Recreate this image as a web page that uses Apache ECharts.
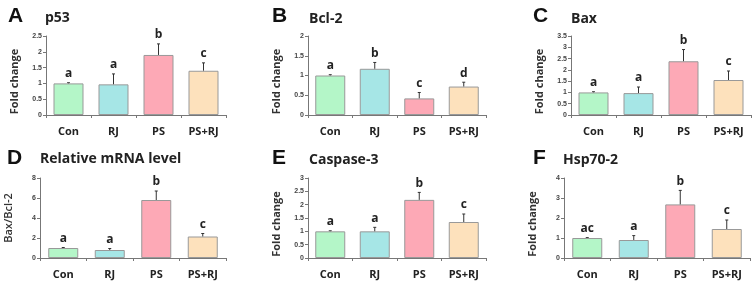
<!DOCTYPE html>
<html>
<head>
<meta charset="utf-8">
<script src="https://cdn.jsdelivr.net/npm/echarts@6/dist/echarts.min.js"></script>
<style>
html,body{margin:0;padding:0;background:#fff;}
#chart{width:755px;height:293px;}
</style>
</head>
<body>
<div id="chart"></div>
<script>
// ---- data ----
const categories = ['Con', 'RJ', 'PS', 'PS+RJ'];
const panelLetters = ['A', 'B', 'C', 'D', 'E', 'F'];
const panelTitles = ['p53', 'Bcl-2', 'Bax', 'Relative mRNA level', 'Caspase-3', 'Hsp70-2'];
const yAxisNames = ['Fold change', 'Fold change', 'Fold change', 'Bax/Bcl-2', 'Fold change', 'Fold change'];
const yMaxes = [2.5, 2, 3.5, 8, 3, 4];
const yIntervals = [0.5, 0.5, 0.5, 2, 0.5, 1];

const p53Mean = [1.0, 0.97, 1.9, 1.4];
const p53Err = [0.02, 0.33, 0.35, 0.25];
const p53Sig = ['a', 'a', 'b', 'c'];

const bcl2Mean = [1.0, 1.17, 0.42, 0.72];
const bcl2Err = [0.02, 0.16, 0.15, 0.11];
const bcl2Sig = ['a', 'b', 'c', 'd'];

const baxMean = [1.0, 0.97, 2.38, 1.55];
const baxErr = [0.03, 0.27, 0.52, 0.4];
const baxSig = ['a', 'a', 'b', 'c'];

const ratioMean = [1.0, 0.8, 5.8, 2.15];
const ratioErr = [0.05, 0.15, 0.9, 0.3];
const ratioSig = ['a', 'a', 'b', 'c'];

const casp3Mean = [1.0, 1.0, 2.18, 1.35];
const casp3Err = [0.02, 0.15, 0.28, 0.3];
const casp3Sig = ['a', 'a', 'b', 'c'];

const hspMean = [1.0, 0.9, 2.68, 1.45];
const hspErr = [0.02, 0.22, 0.7, 0.45];
const hspSig = ['ac', 'a', 'b', 'c'];

const barColors = ['#b4f6c8', '#a6e6e6', '#fda9b6', '#fde1bc'];

// ---- layout ----
const means = [p53Mean, bcl2Mean, baxMean, ratioMean, casp3Mean, hspMean];
const errs = [p53Err, bcl2Err, baxErr, ratioErr, casp3Err, hspErr];
const sigs = [p53Sig, bcl2Sig, baxSig, ratioSig, casp3Sig, hspSig];

const gridBoxes = [
  {left: 46, width: 180, top: 36, height: 79},
  {left: 308, width: 178, top: 36, height: 79},
  {left: 571, width: 180, top: 36, height: 79},
  {left: 40, width: 186, top: 178, height: 80},
  {left: 308, width: 178, top: 178, height: 80},
  {left: 564, width: 186, top: 178, height: 80}
];
// text anchors (left, baseline)
const letterPos = [[8, 26], [272, 26], [533, 26], [7, 168], [272, 168], [533, 168]];
const titlePos = [[45, 26], [309, 27], [571, 27], [40, 167], [309, 168], [563, 168]];
const nameShift = [12, 12, 12, 0, 12, 12];

const graphics = [], grids = [], xAxes = [], yAxes = [], series = [];
const FONT = '"Open Sans", sans-serif';

for (let i = 0; i < 6; i++) {
  graphics.push({
    type: 'text', left: letterPos[i][0], top: letterPos[i][1] - 20, silent: true,
    style: {text: panelLetters[i], font: 'bold 21px "Liberation Sans", Arial, sans-serif', fill: '#111'}
  });
  graphics.push({
    type: 'text', left: titlePos[i][0], top: titlePos[i][1] - 15, silent: true,
    style: {text: panelTitles[i], font: 'bold 14px "Open Sans", sans-serif', fill: '#222'}
  });
  grids.push(Object.assign({containLabel: false}, gridBoxes[i]));
  xAxes.push({
    type: 'category', gridIndex: i, data: categories,
    axisLine: {lineStyle: {color: '#777', width: 1}},
    axisTick: {show: true, length: 3, inside: false, lineStyle: {color: '#777'}},
    axisLabel: {fontFamily: FONT, fontWeight: 'bold', fontSize: 11, color: '#222', margin: 11}
  });
  yAxes.push({
    type: 'value', gridIndex: i, min: 0, max: yMaxes[i], interval: yIntervals[i],
    name: yAxisNames[i], nameLocation: 'middle', nameGap: 26,
    nameTextStyle: {fontFamily: FONT, fontWeight: i === 3 ? 600 : 'bold', fontSize: 11, color: '#333',
      padding: [0, nameShift[i], 0, 0]},
    splitLine: {show: false},
    axisLine: {show: true, lineStyle: {color: '#777', width: 1}},
    axisTick: {show: true, length: 3, lineStyle: {color: '#777'}},
    axisLabel: {fontFamily: '"Liberation Sans", Arial, sans-serif', fontWeight: 'bold', fontSize: 7, color: '#444', margin: 4}
  });
  series.push({
    type: 'bar', xAxisIndex: i, yAxisIndex: i, barWidth: 30,
    data: means[i].map((v, k) => ({value: v, itemStyle: {color: barColors[k]}})),
    itemStyle: {borderColor: '#999', borderWidth: 1},
    silent: true
  });
  series.push({
    type: 'custom', xAxisIndex: i, yAxisIndex: i, silent: true,
    data: means[i].map((v, k) => [k, v - errs[i][k], v + errs[i][k], sigs[i][k], v]),
    renderItem: function (params, api) {
      const lo = api.coord([api.value(0), api.value(1)]);
      const hi = api.coord([api.value(0), api.value(2)]);
      const mid = api.coord([api.value(0), api.value(4)]);
      const x = lo[0];
      const style = {stroke: '#333', lineWidth: 1};
      return {
        type: 'group',
        children: [
          {type: 'line', shape: {x1: x, y1: lo[1], x2: x, y2: mid[1]}, style: {stroke: 'rgba(50,50,50,0.55)', lineWidth: 1}},
          {type: 'line', shape: {x1: x, y1: mid[1], x2: x, y2: hi[1]}, style: style},
          {type: 'line', shape: {x1: x - 1.5, y1: hi[1], x2: x + 1.5, y2: hi[1]}, style: style},
          {type: 'text', style: {text: api.value(3), x: x, y: hi[1] - 3, align: 'center', verticalAlign: 'bottom',
            font: 'bold 12px "Open Sans", sans-serif', fill: '#222'}}
        ]
      };
    }
  });
}

const chart = echarts.init(document.getElementById('chart'), null, {renderer: 'canvas'});
chart.setOption({
  animation: false,
  backgroundColor: '#fff',
  graphic: graphics,
  grid: grids,
  xAxis: xAxes,
  yAxis: yAxes,
  series: series
});
</script>
</body>
</html>
